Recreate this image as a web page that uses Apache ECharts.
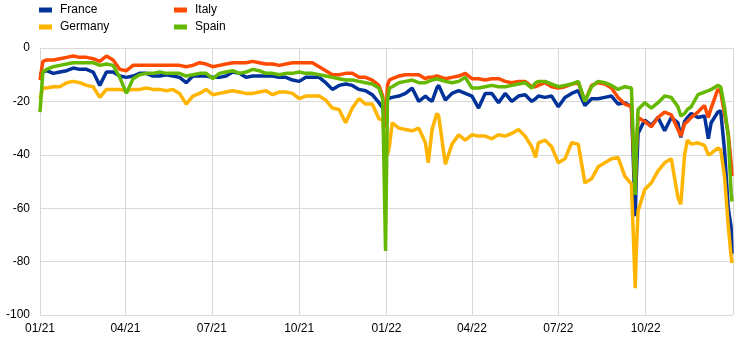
<!DOCTYPE html>
<html><head><meta charset="utf-8">
<script src="https://cdn.jsdelivr.net/npm/echarts@6/dist/echarts.min.js"></script>
<style>html,body{margin:0;padding:0;background:#fff}#c{width:744px;height:344px}</style>
</head><body><div id="c"></div>
<script>
// Days counted from 1 January 2021
const dayOffsets = [0,3,7,14,21,28,35,42,49,56,63,70,77,84,91,98,105,112,119,126,133,140,147,154,161,168,175,182,189,196,203,210,217,224,231,238,245,252,259,266,273,280,287,294,301,308,315,322,329,336,343,350,357,361,364,366,368,371,378,385,392,399,406,409,413,418,420,427,434,441,448,455,462,469,476,483,490,497,504,511,518,522,525,532,539,546,553,560,567,574,581,588,595,602,609,616,623,625,627,628,630,637,644,651,658,665,672,675,679,682,686,693,700,704,707,714,717,721,725,728,729];

const italy = [-12,-5,-4.5,-4.5,-4,-3.5,-3,-3.5,-3.5,-4,-5,-3,-4.5,-8,-8.5,-6.5,-6.5,-6.5,-6.5,-6.5,-6.5,-6.5,-6.5,-7,-6.5,-5.5,-6,-7,-6.5,-6,-5.5,-5.5,-5.5,-5,-5.5,-6,-6,-6.5,-6,-5.5,-5.5,-5.5,-5.5,-7,-8.5,-10,-10,-9.5,-9.5,-11,-11,-12,-14,-18,-30,-14,-12,-11.5,-10.5,-10,-10,-10,-11.5,-11,-11,-10.5,-10.5,-11.5,-11,-10.5,-9.5,-11.5,-11.5,-12,-11.5,-11.5,-12.5,-13,-12.5,-12.5,-14.5,-14.5,-14,-13,-14.5,-15,-14.5,-13.5,-13,-20,-14,-13,-13.5,-15,-18.5,-21,-22,-38,-54.5,-40,-26,-27.5,-29.5,-26,-24,-25,-30.5,-33,-28.5,-27.5,-26,-24,-21.5,-26,-22.5,-15.5,-16.5,-24.5,-32,-43,-48];

const france = [-10,-9,-8.5,-9.5,-9,-8.5,-7.5,-8,-8,-9,-14,-9,-9,-10.5,-11,-10.5,-9.5,-9.5,-10.5,-10.5,-10,-10.5,-11,-13,-10.5,-10.5,-10.5,-11,-11,-10.5,-9,-9.5,-11,-10.5,-10.5,-10.5,-10.5,-11,-11,-12,-12.5,-11,-11,-11,-13,-15.5,-14,-13.5,-14,-15.5,-16,-17.5,-20.5,-22.5,-28,-19,-19,-18.5,-18,-17,-15,-20,-18,-19,-20,-15,-14,-19.5,-17,-16,-17,-18,-22.5,-17,-17,-20.5,-17,-20,-18,-17.5,-20,-19,-18,-18.5,-18,-22,-18.5,-17,-16,-21.5,-19,-19,-18.5,-18,-21,-20.5,-22,-42,-63,-50,-32,-27,-29,-26,-31,-26,-28,-33.5,-27.5,-26,-24.5,-26,-25.5,-34,-28,-24,-23.5,-38,-60,-67,-77];

const germany = [-19,-15,-15,-14.5,-14.5,-13,-12.5,-13,-14,-14.5,-18.5,-15.5,-15.5,-15.5,-16,-15.5,-15.5,-15,-15.5,-15.5,-16,-15.5,-17,-21,-18,-17,-15.5,-17.5,-17,-16.5,-16,-16.5,-17,-17,-16.5,-16,-17.5,-16.5,-16.5,-17,-19,-18,-18,-18,-19.5,-22.5,-23,-28,-22.5,-19,-21,-21,-26.5,-27,-38,-40,-37,-28,-30,-30.5,-31,-30,-35.5,-43,-30.5,-24.5,-25.5,-43.5,-36,-32.5,-34.5,-32.5,-33,-33,-34,-32.5,-33,-32,-30.5,-33,-37,-41,-35.5,-34.5,-37,-43,-41.5,-35.5,-36,-50.5,-49,-44.5,-43,-41.5,-41,-48,-51,-70,-90,-78,-61,-53,-50.5,-46,-43,-41.5,-56,-58.5,-40,-34.5,-36,-35.5,-36.5,-40,-39.5,-37.5,-38,-48,-66.5,-78,-80.5];

const spain = [-24,-9,-8,-7,-6.5,-6,-5.5,-5.5,-5.5,-5.5,-6.5,-6,-6.5,-11,-17,-11.5,-10,-9.5,-9.5,-9,-9.5,-9.5,-9.5,-10.5,-10,-9.5,-9.5,-11.5,-9.5,-9,-8.5,-9.5,-9,-8,-8.5,-9.5,-9.5,-10,-9.5,-9.5,-9,-9.5,-9.5,-10,-10.5,-11,-11.5,-12,-12,-12.5,-13,-13.5,-15,-19,-76,-20,-15,-14.5,-13,-12.5,-12,-13,-13,-12.5,-12,-11.5,-11.5,-12.5,-13,-12.5,-11,-15,-15,-14.5,-14,-14.5,-14.5,-14,-13.5,-13,-15,-13,-12.5,-12.5,-13.5,-14.5,-14,-13.5,-12.5,-20,-14.5,-12.5,-13,-14,-15.5,-14.5,-15,-35,-55,-40,-23,-20.5,-22.5,-20.5,-18,-18.5,-22,-25.5,-24.5,-23,-22,-17.5,-16.5,-16,-15.5,-14,-14.5,-22,-33,-54,-57.5];

const seriesNames = ['France', 'Italy', 'Germany', 'Spain'];
const seriesColors = ['#003299', '#FF4B00', '#FFB400', '#65B800'];
const yTicks = [-100, -80, -60, -40, -20, 0];

const toTime = d => new Date(2021, 0, 1 + d).getTime();
const mk = arr => dayOffsets.map((d, i) => [toTime(d), arr[i]]);
const values = [france, italy, germany, spain];

const font = "'Liberation Sans', Arial, sans-serif";
const legendBase = {
  padding: 0, itemWidth: 13, itemHeight: 5, icon: 'rect',
  textStyle: { fontSize: 12, color: '#000', fontFamily: font, padding: [0, 0, 0, 3] }
};
const legendPos = [[39, 4], [174, 4], [39, 21], [174, 21]];

const chart = echarts.init(document.getElementById('c'), null, { renderer: 'canvas' });
chart.setOption({
  animation: false,
  backgroundColor: '#fff',
  grid: { left: 40, right: 11, top: 48, bottom: 29, containLabel: false },
  legend: seriesNames.map((n, i) => Object.assign({}, legendBase, { data: [n], left: legendPos[i][0], top: legendPos[i][1] })),
  xAxis: {
    type: 'time',
    min: toTime(0), max: toTime(730),
    splitNumber: 8,
    minInterval: 85 * 864e5, maxInterval: 95 * 864e5,
    axisLine: { show: true, lineStyle: { color: '#d9d9d9', width: 1 } },
    axisTick: { show: false },
    splitLine: { show: true, lineStyle: { color: '#d9d9d9', width: 1 } },
    axisLabel: {
      showMaxLabel: false, color: '#000', fontSize: 12, fontFamily: font, margin: 8,
      formatter: v => { const d = new Date(v); return String(d.getMonth() + 1).padStart(2, '0') + '/' + String(d.getFullYear() % 100).padStart(2, '0'); }
    }
  },
  yAxis: {
    type: 'value', min: yTicks[0], max: yTicks[yTicks.length - 1], interval: 20,
    axisLine: { show: false }, axisTick: { show: false },
    splitLine: { lineStyle: { color: '#d9d9d9', width: 1 } },
    axisLabel: { color: '#000', fontSize: 12, fontFamily: font, margin: 10 }
  },
  series: seriesNames.map((n, i) => ({
    name: n, type: 'line', data: mk(values[i]), showSymbol: false, symbol: 'none',
    color: seriesColors[i], lineStyle: { width: 3.5, color: seriesColors[i] }, z: 2 + i
  }))
});
</script>
</body></html>
